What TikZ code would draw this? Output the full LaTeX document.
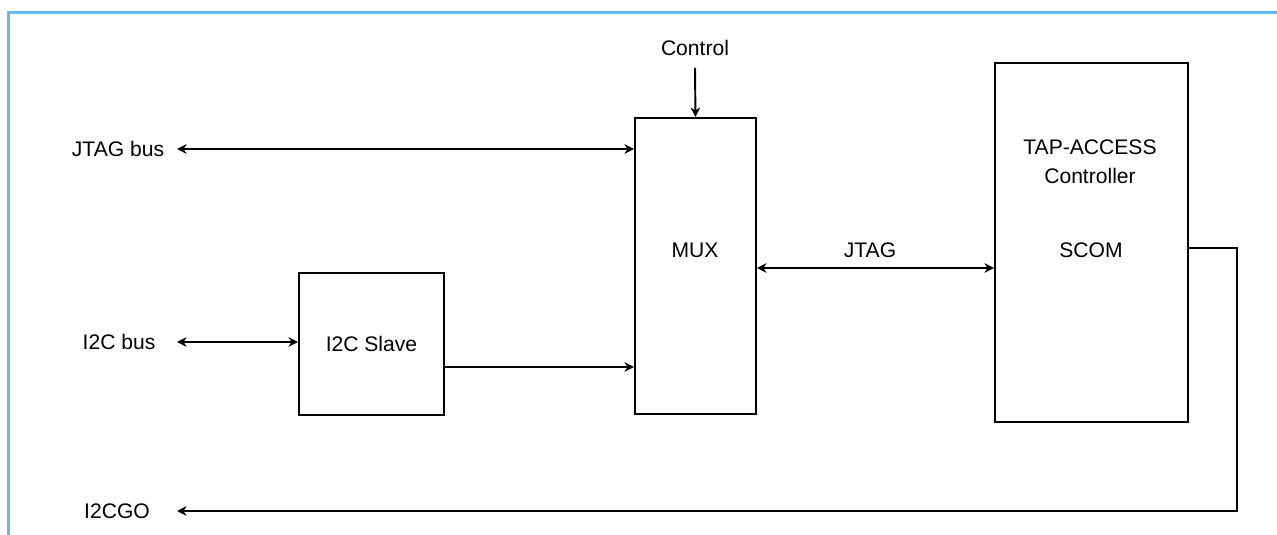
\documentclass[tikz,border=0pt]{standalone}
\usepackage{fontspec}
\setmainfont{Liberation Sans}
\definecolor{frameBlue}{RGB}{100, 185, 245}
\usetikzlibrary{arrows.meta, positioning}

\begin{document}
\begin{tikzpicture}[
      x=0.2mm, y=-0.2mm,
      every node/.style={font=\fontsize{12}{14}\selectfont},
      block/.style={rectangle, draw, line width=1.1pt, anchor=north west, inner sep=0pt, align=center},
      port/.style={inner sep=1pt},
      arrow/.style={-{Stealth[length=1.9mm, width=1.9mm, inset=0.6mm]}, line width=1.1pt},
      biarrow/.style={{Stealth[length=1.9mm, width=1.9mm, inset=0.6mm]}-{Stealth[length=1.9mm, width=1.9mm, inset=0.6mm]}, line width=1.1pt}
    ]
      \useasboundingbox (0,0) rectangle (1277,535);
      \draw[frameBlue, line width=0.6mm] (8,540) -- (8,13) -- (1280,13);

      % blocks
      \node[block, minimum width=24.2mm, minimum height=59.2mm] (mux) at (634,117) {};
      \node (muxtext) at (695,250) {MUX};
      \node[block, minimum width=29mm, minimum height=28.4mm] (slave) at (298,272) {I2C Slave};
      \node[block, minimum width=38.6mm, minimum height=71.8mm] (tap) at (994,62) {};
      \node[align=center, inner sep=0pt] (taptext) at (1090,162) {TAP-ACCESS\\[0.9mm]Controller};
      \node (scom) at (1091,250) {SCOM};

      % ports
      \node[port] (jtagbus) at (118,149) {JTAG bus};
      \node[port] (i2cbus) at (119,342) {I2C bus};
      \node[port] (i2cgo) at (117,511) {I2CGO};
      \node[port] (control) at (695,48) {Control};
      \node[port] (jtag) at (870,250) {JTAG};
      \coordinate (left) at (177,0);
      \coordinate (bend) at (1237,248);

      \draw[biarrow] (left |- jtagbus) -- (mux.west |- jtagbus);
      \draw[biarrow] (left |- i2cbus) -- (slave.west |- i2cbus);
      \draw[arrow] (slave.east |- 0,367) -- (mux.west |- 0,367);
      \draw[arrow] ([yshift=-2mm]control.south) -- (mux.north);
      \draw[biarrow] (mux.east |- 0,268) -- (tap.west |- 0,268);
      \draw[arrow] (tap.east |- bend) -- (bend) -- (bend |- i2cgo) -- (left |- i2cgo);
    \end{tikzpicture}
\end{document}
